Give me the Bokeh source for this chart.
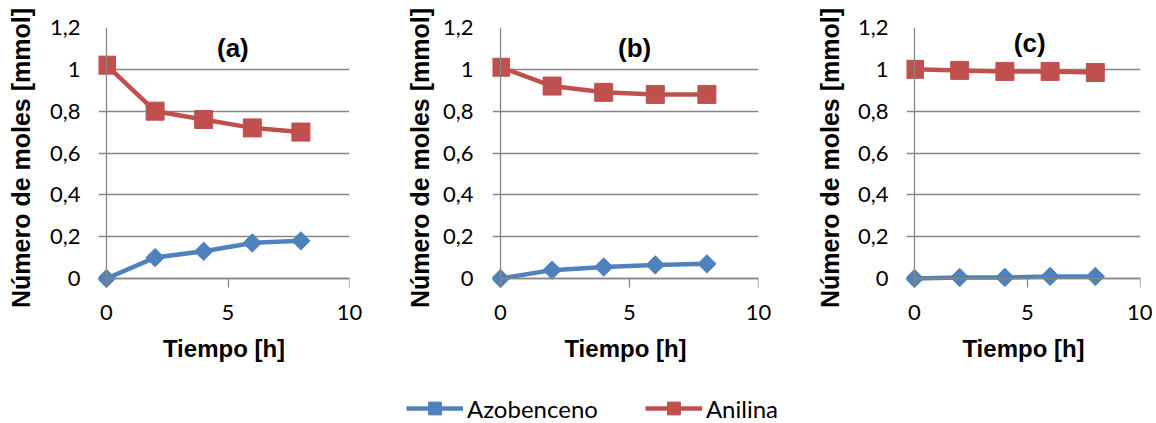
import math
from bokeh.plotting import figure
from bokeh.models import (Range1d, FixedTicker, Label, Legend, LegendItem,
                          LinearAxis)
from bokeh.layouts import row, column
from bokeh.embed import file_html
from bokeh.resources import INLINE

# ---------------- data ----------------
tiempo = [0, 2, 4, 6, 8]

azo_a = [0.0, 0.10, 0.13, 0.17, 0.18]
anil_a = [1.02, 0.80, 0.76, 0.72, 0.70]

azo_b = [0.0, 0.04, 0.055, 0.065, 0.07]
anil_b = [1.01, 0.92, 0.89, 0.88, 0.88]

azo_c = [0.0, 0.005, 0.005, 0.01, 0.01]
anil_c = [1.00, 0.995, 0.99, 0.99, 0.985]

panel_labels = ["(a)", "(b)", "(c)"]
series_names = ["Azobenceno", "Anilina"]

y_ticks = [0, 0.2, 0.4, 0.6, 0.8, 1.0, 1.2]
y_tick_labels = ["0", "0,2", "0,4", "0,6", "0,8", "1", "1,2"]
x_ticks = [0, 5, 10]
x_tick_labels = ["0", "5", "10"]

x_title = "Tiempo [h]"
y_title = "Número de moles [mmol]"

# ---------------- style ----------------
BLUE = "#4F81BD"
RED = "#C0504D"
GRID = "#868686"
TICK_FONT = "Lato"
TITLE_FONT = "Liberation Sans"

TOP = 27          # frame top (y = 1.2)
PLOT_H = 251      # px from y=1.2 to y=0
EXT_L = 8         # gridline extension left of the y axis
EXT_B = 10        # frame extension below the x axis
BOTTOM = 95


def make_panel(azo, anil, label, label_x, label_y, border_left, axis_px,
               border_right, ylab_standoff, ytitle_standoff):
    sx = axis_px / 10.0
    sy = PLOT_H / 1.2
    frame_w = axis_px + EXT_L
    width = border_left + frame_w + border_right
    height = TOP + PLOT_H + EXT_B + BOTTOM
    p = figure(width=width, height=height,
               x_range=Range1d(-EXT_L / sx, 10), y_range=Range1d(-EXT_B / sy, 1.2),
               output_backend="svg", toolbar_location=None,
               min_border_left=border_left, min_border_right=border_right,
               min_border_top=TOP, min_border_bottom=BOTTOM)
    p.outline_line_color = None
    p.background_fill_color = "white"
    p.border_fill_color = "white"

    p.xgrid.visible = False
    p.ygrid.ticker = FixedTicker(ticks=y_ticks)
    p.ygrid.grid_line_color = GRID
    p.ygrid.grid_line_width = 1.3

    # labelled axes at the frame edges (text only)
    ya = p.yaxis[0]
    ya.ticker = FixedTicker(ticks=y_ticks)
    ya.major_label_overrides = {t: s for t, s in zip(y_ticks, y_tick_labels)}
    ya.axis_line_color = None
    ya.major_tick_out = 0
    ya.major_tick_in = 0
    ya.minor_tick_out = 0
    ya.minor_tick_in = 0
    ya.major_label_standoff = ylab_standoff
    ya.major_label_text_font = TICK_FONT
    ya.major_label_text_font_size = "22px"
    ya.major_label_text_color = "black"
    ya.axis_label = y_title
    ya.axis_label_text_font = TITLE_FONT
    ya.axis_label_text_font_style = "bold"
    ya.axis_label_text_font_size = "25px"
    ya.axis_label_text_color = "black"
    ya.axis_label_standoff = ytitle_standoff

    xa = p.xaxis[0]
    xa.ticker = FixedTicker(ticks=x_ticks)
    xa.major_label_overrides = {t: s for t, s in zip(x_ticks, x_tick_labels)}
    xa.axis_line_color = None
    xa.major_tick_out = 0
    xa.major_tick_in = 0
    xa.minor_tick_out = 0
    xa.minor_tick_in = 0
    xa.major_label_standoff = 16
    xa.major_label_text_font = TICK_FONT
    xa.major_label_text_font_size = "22px"
    xa.major_label_text_color = "black"
    xa.axis_label = x_title
    xa.axis_label_text_font = TITLE_FONT
    xa.axis_label_text_font_style = "bold"
    xa.axis_label_text_font_size = "24px"
    xa.axis_label_text_color = "black"
    xa.axis_label_standoff = 12

    # axis lines through the origin (lines and ticks only)
    fy = LinearAxis(fixed_location=0, bounds=(0, 1.2),
                    ticker=FixedTicker(ticks=[]),
                    axis_line_color=GRID, axis_line_width=1.3,
                    major_tick_out=0, major_tick_in=0,
                    minor_tick_out=0, minor_tick_in=0,
                    major_label_standoff=0, major_label_text_font_size="0px")
    p.add_layout(fy, "left")
    fx = LinearAxis(fixed_location=0, bounds=(0, 10),
                    ticker=FixedTicker(ticks=x_ticks),
                    major_label_overrides={t: "" for t in x_ticks},
                    axis_line_color=GRID, axis_line_width=1.3,
                    major_tick_line_color=GRID, major_tick_line_width=1.3,
                    major_tick_out=9, major_tick_in=0,
                    minor_tick_out=0, minor_tick_in=0,
                    major_label_standoff=0, major_label_text_font_size="0px")
    p.add_layout(fx, "below")

    p.line(tiempo, azo, line_color=BLUE, line_width=4.5)
    p.scatter(tiempo, azo, marker="square", angle=math.pi / 4, size=13,
              fill_color=BLUE, line_color=BLUE)
    p.line(tiempo, anil, line_color=RED, line_width=4.5)
    p.scatter(tiempo, anil, marker="square", size=18,
              fill_color=RED, line_color=RED)

    p.add_layout(Label(x=label_x, y=label_y, text=label,
                       text_font=TITLE_FONT, text_font_style="bold",
                       text_font_size="26px", text_color="black",
                       text_align="center", text_baseline="middle"))
    return p


pa = make_panel(azo_a, anil_a, panel_labels[0], 5.2, 1.10, 98, 243, 51, 18, 12)
pb = make_panel(azo_b, anil_b, panel_labels[1], 5.2, 1.10, 92, 258, 53, 19, 6)
pc = make_panel(azo_c, anil_c, panel_labels[2], 5.1, 1.125, 95, 226, 12, 18, 11)

# ---------------- legend strip ----------------
row_h = TOP + PLOT_H + EXT_B + BOTTOM
lg = figure(width=1156, height=423 - row_h, output_backend="svg",
            toolbar_location=None,
            x_range=Range1d(100, 101), y_range=Range1d(100, 101),
            x_axis_location=None, y_axis_location=None, min_border=0)
lg.outline_line_color = None
lg.grid.visible = False
r1 = lg.line(tiempo, azo_a, line_color=BLUE, line_width=4.5)
r2 = lg.scatter(tiempo, azo_a, marker="square", angle=math.pi / 4, size=13,
                fill_color=BLUE, line_color=BLUE)
r3 = lg.line(tiempo, anil_a, line_color=RED, line_width=4.5)
r4 = lg.scatter(tiempo, anil_a, marker="square", size=14,
                fill_color=RED, line_color=RED)
legend = Legend(items=[LegendItem(label=series_names[0], renderers=[r1, r2]),
                       LegendItem(label=series_names[1], renderers=[r3, r4])],
                orientation="horizontal", location=(406, -1),
                glyph_width=57, glyph_height=32, label_standoff=4, spacing=47,
                padding=0, margin=0, border_line_alpha=0, background_fill_alpha=0,
                label_text_font=TICK_FONT, label_text_font_size="24px",
                label_text_color="black")
lg.add_layout(legend)

layout = column(row(pa, pb, pc), lg)

with open("out.html", "w") as f:
    f.write(file_html(layout, INLINE))
